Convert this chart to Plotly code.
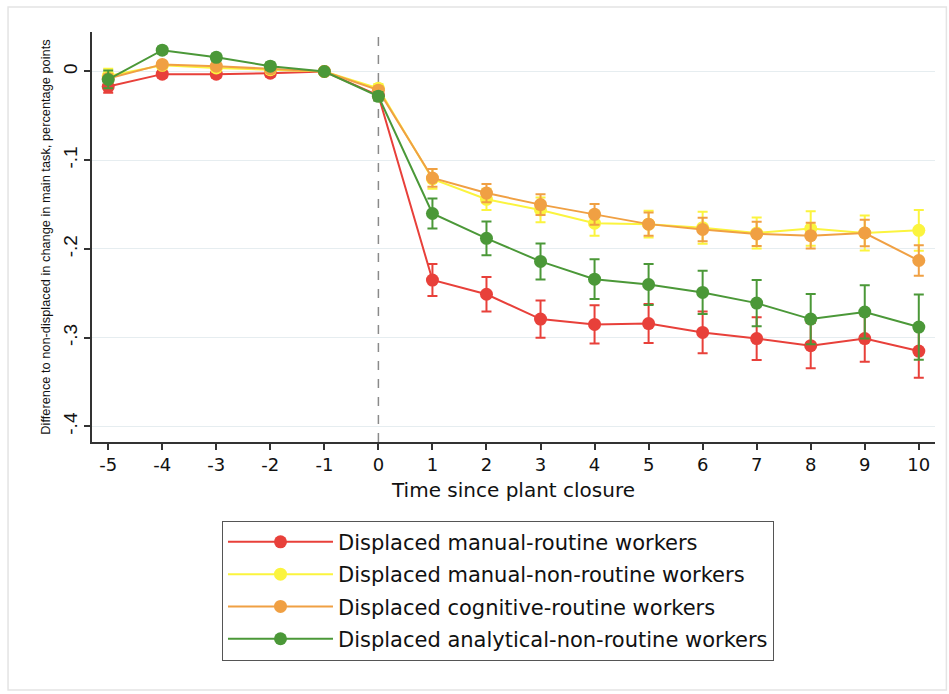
import plotly.graph_objects as go

# ---------------- data ----------------
time = [-5, -4, -3, -2, -1, 0, 1, 2, 3, 4, 5, 6, 7, 8, 9, 10]
x_ticktext = ["-5", "-4", "-3", "-2", "-1", "0", "1", "2", "3", "4", "5", "6", "7", "8", "9", "10"]

series_names = [
    "Displaced manual-routine workers",
    "Displaced manual-non-routine workers",
    "Displaced cognitive-routine workers",
    "Displaced analytical-non-routine workers",
]

manual_routine = [-0.017, -0.003, -0.003, -0.002, 0.0, -0.027, -0.235, -0.251, -0.279, -0.285,
                  -0.284, -0.294, -0.301, -0.309, -0.301, -0.315]
manual_routine_ci = [0.007, 0.004, 0.004, 0.004, 0.0, 0.005, 0.018, 0.0195, 0.021, 0.0215,
                     0.022, 0.0235, 0.024, 0.0255, 0.026, 0.030]

manual_nonroutine = [-0.005, 0.007, 0.004, 0.002, 0.0, -0.019, -0.121, -0.144, -0.156, -0.171,
                     -0.172, -0.176, -0.182, -0.177, -0.182, -0.179]
manual_nonroutine_ci = [0.008, 0.004, 0.004, 0.004, 0.0, 0.005, 0.011, 0.012, 0.014, 0.014,
                        0.015, 0.018, 0.0175, 0.0195, 0.0196, 0.023]

cognitive_routine = [-0.008, 0.008, 0.006, 0.003, 0.0, -0.021, -0.120, -0.137, -0.150, -0.161,
                     -0.172, -0.178, -0.183, -0.185, -0.182, -0.213]
cognitive_routine_ci = [0.005, 0.003, 0.003, 0.003, 0.0, 0.004, 0.010, 0.0103, 0.0117, 0.0118,
                        0.013, 0.0133, 0.0137, 0.0145, 0.015, 0.0173]

analytical_nonroutine = [-0.009, 0.024, 0.016, 0.006, 0.0, -0.028, -0.160, -0.188, -0.214, -0.234,
                         -0.240, -0.249, -0.261, -0.279, -0.271, -0.288]
analytical_nonroutine_ci = [0.010, 0.004, 0.004, 0.004, 0.0, 0.005, 0.017, 0.019, 0.0203, 0.0224,
                            0.023, 0.0244, 0.026, 0.0284, 0.030, 0.0368]

y_tickvals = [0, -0.1, -0.2, -0.3, -0.4]
y_ticktext = ["0", "-.1", "-.2", "-.3", "-.4"]

colors = ["#e8403a", "#fbf43e", "#f0a043", "#4b9838"]

values = [manual_routine, manual_nonroutine, cognitive_routine, analytical_nonroutine]
cis = [manual_routine_ci, manual_nonroutine_ci, cognitive_routine_ci, analytical_nonroutine_ci]

FONT = "Liberation Sans, Arial, Helvetica, sans-serif"
WIDE = "DejaVu Sans, Verdana, sans-serif"

fig = go.Figure()
for name, vals, ci, col in zip(series_names, values, cis, colors):
    fig.add_trace(go.Scatter(
        x=time, y=vals, name=name, mode="lines+markers",
        line=dict(color=col, width=2),
        marker=dict(color=col, size=13),
        error_y=dict(type="data", array=ci, visible=True, color=col, thickness=2, width=5),
        legendgroup=name,
    ))

# vertical dashed line at plant closure
fig.add_shape(type="line", xref="x", yref="paper", x0=0, x1=0, y0=0, y1=1,
              line=dict(color="#8a8a8a", width=1.5, dash="dash"), layer="below")

# faint outer frame
fig.add_shape(type="rect", xref="paper", yref="paper",
              x0=-0.0996, x1=1.0135, y0=-0.605, y1=1.061,
              line=dict(color="#e4e4e4", width=1.5), layer="below")

fig.update_layout(
    width=949, height=694,
    margin=dict(l=92, r=14, t=32, b=252),
    paper_bgcolor="white", plot_bgcolor="white",
    font=dict(family=FONT, color="#111111"),
    showlegend=True,
    legend=dict(
        x=0.1542, y=-0.192, xanchor="left", yanchor="top",
        bordercolor="#555555", borderwidth=1, bgcolor="white",
        font=dict(size=21, family=WIDE, color="#111111"),
        tracegroupgap=2, itemwidth=105,
    ),
    xaxis=dict(
        range=[-5.3, 10.3], tickvals=time, ticktext=x_ticktext,
        showline=True, linecolor="#333333", linewidth=1.5,
        ticks="outside", ticklen=6, tickcolor="#333333", tickwidth=1.5,
        tickfont=dict(size=18, family=WIDE), showgrid=False, zeroline=False,
        title=dict(text="Time since plant closure", font=dict(size=20, family=WIDE), standoff=9),
    ),
    yaxis=dict(
        range=[-0.4175, 0.0445], tickvals=y_tickvals, ticktext=y_ticktext,
        tickangle=-90,
        showline=True, linecolor="#333333", linewidth=1.5,
        ticks="outside", ticklen=6, tickcolor="#333333", tickwidth=1.5,
        tickfont=dict(size=19), showgrid=True, gridcolor="#e6edf0", gridwidth=1,
        zeroline=False,
        title=dict(text="Difference to non-displaced in change in main task, percentage points",
                   font=dict(size=12.8), standoff=6),
    ),
)

fig.write_html("out.html")
